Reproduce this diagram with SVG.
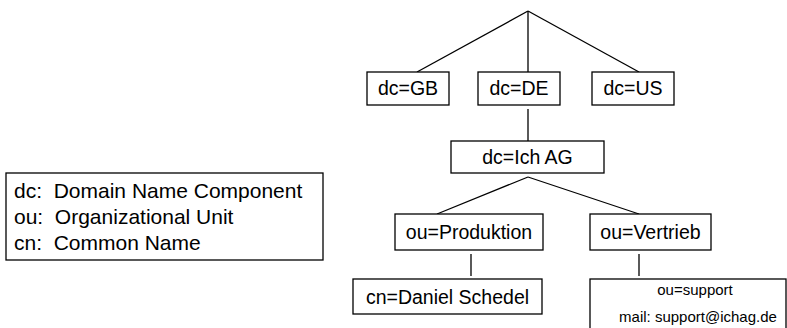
<svg xmlns="http://www.w3.org/2000/svg" width="787" height="328" viewBox="0 0 787 328">
<style>
rect{fill:#fff;stroke:#000;stroke-width:1.3}
line{stroke:#000;stroke-width:1.3}
text{font-family:"Liberation Sans",Arial,sans-serif;font-size:19.5px;fill:#000;text-anchor:middle}
.leg{font-size:21px;text-anchor:start}
.sm{font-size:15px}
</style>
<rect width="787" height="328" style="fill:#fff;stroke:none"/>
<g id="connectors">
<line x1="528" y1="11" x2="417" y2="72"/>
<line x1="528" y1="11" x2="528" y2="72"/>
<line x1="528" y1="11" x2="639" y2="72"/>
<line x1="528" y1="109" x2="528" y2="141"/>
<line x1="528" y1="177" x2="437" y2="214"/>
<line x1="528" y1="177" x2="639" y2="214"/>
<line x1="471" y1="254" x2="471" y2="276"/>
<line x1="639" y1="254" x2="639" y2="276"/>
</g>
<g id="legend">
<rect x="6" y="173" width="317" height="87"/>
<text class="leg" xml:space="preserve" x="14" y="198">dc:  Domain Name Component</text>
<text class="leg" xml:space="preserve" x="14" y="224">ou:  Organizational Unit</text>
<text class="leg" xml:space="preserve" x="14" y="250">cn:  Common Name</text>
</g>
<g id="gb"><rect x="367" y="72" width="82" height="33"/><text x="408" y="95">dc=GB</text></g>
<g id="de"><rect x="478" y="72" width="82" height="33"/><text x="519" y="95">dc=DE</text></g>
<g id="us"><rect x="592" y="72" width="82" height="33"/><text x="633" y="95">dc=US</text></g>
<g id="ichag"><rect x="451" y="141" width="153" height="32"/><text x="527.5" y="164">dc=Ich AG</text></g>
<g id="produktion"><rect x="395" y="214" width="148" height="36"/><text x="469" y="239">ou=Produktion</text></g>
<g id="vertrieb"><rect x="590" y="214" width="121" height="36"/><text x="650.5" y="239">ou=Vertrieb</text></g>
<g id="daniel"><rect x="353" y="279" width="189" height="35"/><text x="447.5" y="304">cn=Daniel Schedel</text></g>
<g id="support"><rect x="590" y="279" width="196" height="60"/><text class="sm" x="695" y="295">ou=support</text><text class="sm" x="698" y="322">mail: support@ichag.de</text></g>
</svg>
